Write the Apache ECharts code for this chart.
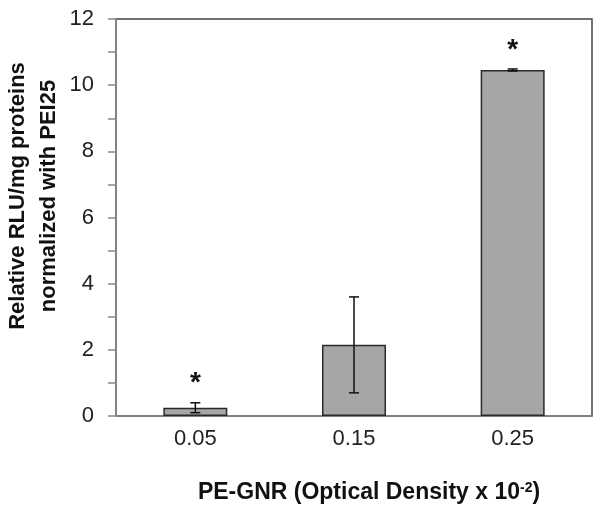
<!DOCTYPE html>
<html><head><meta charset="utf-8">
<script src="https://cdn.jsdelivr.net/npm/echarts@6/dist/echarts.min.js"></script>
<style>html,body{margin:0;padding:0;background:#fff}#c{width:601px;height:518px}</style>
</head><body><div id="c"></div>
<script>
var categories = ['0.05', '0.15', '0.25'];
var values = [0.25, 2.15, 10.46];
var errors = [0.15, 1.45, 0.03];
var significant = [true, false, true];
var yTicks = [0, 2, 4, 6, 8, 10, 12];
var yTitleLines = ['Relative RLU/mg proteins', 'normalized with PEI25'];

var chart = echarts.init(document.getElementById('c'));
var errData = values.map(function (v, i) { return [i, v - errors[i], v + errors[i]]; });
var starData = values.map(function (v, i) { return significant[i] ? [i, v + errors[i]] : null; }).filter(Boolean);

chart.setOption({
  animation: false,
  grid: { left: 116, right: 9, top: 19, bottom: 102, outerBoundsMode: 'none', containLabel: false,
    show: true, borderColor: '#444', borderWidth: 1.5 },
  xAxis: {
    type: 'category', data: categories,
    axisLine: { lineStyle: { color: '#888', width: 1.5 } },
    axisTick: { length: 8, lineStyle: { color: '#888', width: 1.5 } },
    axisLabel: { fontFamily: 'Liberation Sans', fontSize: 22, color: '#222', margin: 12 }
  },
  yAxis: {
    type: 'value', min: 0, max: 12, interval: 2,
    axisLine: { show: true, lineStyle: { color: '#888', width: 1.5 } },
    axisTick: { show: true, length: 8, lineStyle: { color: '#888', width: 1.5 } },
    minorTick: { show: true, splitNumber: 2, length: 8, lineStyle: { color: '#888', width: 1.5 } },
    splitLine: { show: false },
    axisLabel: { fontFamily: 'Liberation Sans', fontSize: 22, color: '#222', margin: 22,
      formatter: function (v) { return yTicks.indexOf(v) >= 0 ? String(v) : ''; } }
  },
  graphic: [
    { type: 'text', x: 33, y: 196, rotation: Math.PI / 2,
      style: { text: yTitleLines.join('\n'), fontFamily: 'Liberation Sans', fontWeight: 'bold', fontSize: 22,
        lineHeight: 31, fill: '#111', align: 'center', verticalAlign: 'middle' } },
    { type: 'text', x: 369, y: 493,
      style: { text: 'PE-GNR (Optical Density x 10{sup|-2})', fontFamily: 'Liberation Sans', fontWeight: 'bold',
        fontSize: 23, fill: '#111', align: 'center', verticalAlign: 'middle',
        rich: { sup: { fontFamily: 'Liberation Sans', fontWeight: 'bold', fontSize: 14, fill: '#111',
          verticalAlign: 'top', padding: [0, 0, 8, 0] } } } }
  ],
  series: [
    {
      type: 'bar', data: values, barWidth: 64,
      itemStyle: { color: '#a6a6a6', borderColor: '#2a2a2a', borderWidth: 1.5 }
    },
    {
      type: 'custom', data: errData, z: 5,
      renderItem: function (params, api) {
        var x = api.coord([api.value(0), api.value(1)])[0];
        var lo = api.coord([api.value(0), api.value(1)])[1];
        var hi = api.coord([api.value(0), api.value(2)])[1];
        var hw = 5;
        var st = { stroke: '#111', lineWidth: 1.5 };
        return { type: 'group', children: [
          { type: 'line', shape: { x1: x, y1: lo, x2: x, y2: hi }, style: st },
          { type: 'line', shape: { x1: x - hw, y1: lo, x2: x + hw, y2: lo }, style: st },
          { type: 'line', shape: { x1: x - hw, y1: hi, x2: x + hw, y2: hi }, style: st }
        ] };
      }
    },
    {
      type: 'custom', data: starData, z: 6,
      renderItem: function (params, api) {
        var p = api.coord([api.value(0), api.value(1)]);
        return { type: 'text', x: p[0], y: p[1] - 5,
          style: { text: '*', fontFamily: 'Liberation Sans', fontWeight: 'bold', fontSize: 28, fill: '#111', align: 'center', verticalAlign: 'bottom' } };
      }
    }
  ]
});
</script></body></html>
